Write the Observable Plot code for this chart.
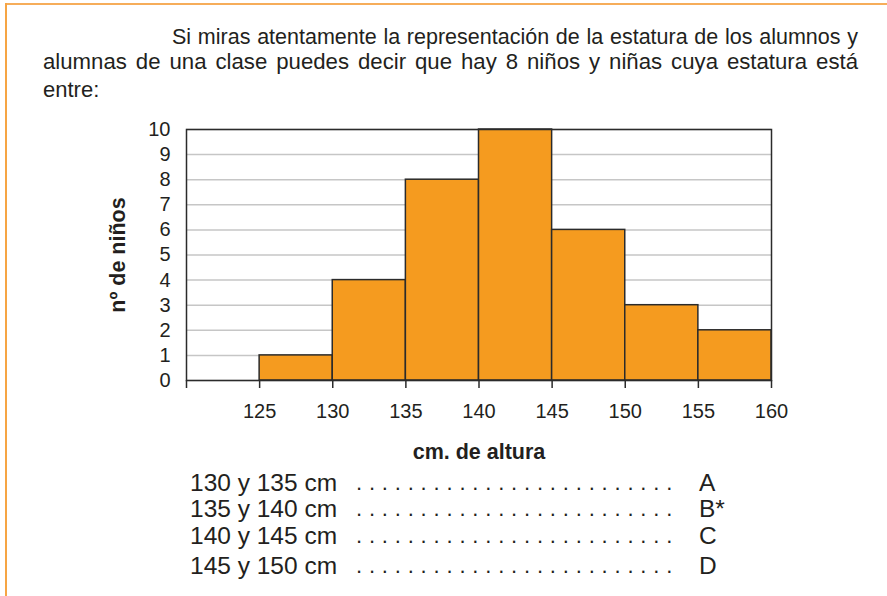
<!DOCTYPE html>
<html>
<head>
<meta charset="utf-8">
<script src="https://cdn.jsdelivr.net/npm/d3@7"></script>
<script src="https://cdn.jsdelivr.net/npm/@observablehq/plot@0.6"></script>
<style>
  body { margin: 0; background: #fff; }
  #page { position: relative; width: 887px; height: 596px; overflow: hidden;
          font-family: "Liberation Sans", Arial, sans-serif; color: #231f20; background: #fff; }
  #frameTop { position: absolute; left: 5px; top: 3px; width: 882px; height: 2px; background: #f6ad5a; }
  #frameLeft { position: absolute; left: 5px; top: 3px; width: 2px; height: 593px; background: #f6a544; }
  .line { position: absolute; white-space: nowrap; font-size: 21.5px; line-height: 26px; }
  .just { text-align: justify; text-align-last: justify; white-space: normal; }
  .row { position: absolute; white-space: nowrap; font-size: 24.5px; line-height: 26px; }
  #chart { position: absolute; left: 0; top: 100px; }
</style>
</head>
<body>
<div id="page">
  <div id="frameTop"></div>
  <div id="frameLeft"></div>
  <div id="intro"></div>
  <div id="chart"></div>
  <div id="answers"></div>
</div>
<script>
// ---- data ----
const introLines = [
  "Si miras atentamente la representación de la estatura de los alumnos y",
  "alumnas de una clase puedes decir que hay 8 niños y niñas cuya estatura está",
  "entre:"
];
const binStart = [125, 130, 135, 140, 145, 150, 155];
const binEnd   = [130, 135, 140, 145, 150, 155, 160];
const counts   = [1, 4, 8, 10, 6, 3, 2];
const xTicks = [120, 125, 130, 135, 140, 145, 150, 155, 160];
const yTicks = [0, 1, 2, 3, 4, 5, 6, 7, 8, 9, 10];
const xLabel = "cm. de altura";
const yLabel = "nº de niños";
const options = ["130 y 135 cm", "135 y 140 cm", "140 y 145 cm", "145 y 150 cm"];
const optionLetters = ["A", "B*", "C", "D"];

// ---- intro text ----
const intro = document.getElementById("intro");
const introPos = [[172, 44, true, 21.5], [43, 69, true, 22.2], [43, 97, false, 22]]; // [left, baseline, justified, size]
const rightEdge = 858;
introLines.forEach((t, i) => {
  const d = document.createElement("div");
  d.className = "line" + (introPos[i][2] ? " just" : "");
  d.textContent = t;
  d.style.fontSize = introPos[i][3] + "px";
  d.style.left = introPos[i][0] + "px";
  if (introPos[i][2]) d.style.width = (rightEdge - introPos[i][0]) + "px";
  d.style.top = (introPos[i][1] - 20.3) + "px";
  intro.appendChild(d);
});

// ---- chart ----
const bins = binStart.map((s, i) => ({x1: s, x2: binEnd[i], y: counts[i]}));
const chart = Plot.plot({
  width: 887,
  height: 370,
  marginLeft: 186,
  marginRight: 116,
  marginTop: 29,
  marginBottom: 90,
  style: {fontFamily: '"Liberation Sans", Arial, sans-serif', color: "#231f20", background: "transparent"},
  x: {domain: [120, 160]},
  y: {domain: [0, 10]},
  marks: [
    Plot.gridY(yTicks, {stroke: "#c6c6c6", strokeOpacity: 1, strokeWidth: 1.5}),
    Plot.rectY(bins, {x1: "x1", x2: "x2", y: "y", fill: "#f59b1f", stroke: "#2b2b2b", strokeWidth: 1.5}),
    Plot.frame({stroke: "#2b2b2b", strokeWidth: 1.5}),
    Plot.axisX({ticks: xTicks, tickSize: 8, tickPadding: 15, fontSize: 20, stroke: "#2b2b2b", strokeWidth: 1.5,
                tickFormat: d => d === 120 ? "" : String(d), label: null}),
    Plot.axisY({ticks: yTicks, tickSize: 0, tickPadding: 16, fontSize: 20, label: null}),
    Plot.text([xLabel], {frameAnchor: "bottom", dy: 72, text: d => d, fontSize: 21.5, fontWeight: "bold",
                         textAnchor: "middle", lineAnchor: "middle"}),
    Plot.text([yLabel], {frameAnchor: "left", dx: -68, text: d => d, rotate: -90, fontSize: 21.5, fontWeight: "bold",
                         textAnchor: "middle", lineAnchor: "middle"})
  ]
});
document.getElementById("chart").appendChild(chart);

// ---- answer options ----
const answers = document.getElementById("answers");
const rowBase = [492, 518, 545, 575];
options.forEach((t, i) => {
  const top = (rowBase[i] - 22.4) + "px";
  const a = document.createElement("div");
  a.className = "row"; a.textContent = t;
  a.style.left = "190px"; a.style.top = top;
  answers.appendChild(a);
  const dots = document.createElement("div");
  dots.className = "row"; dots.textContent = Array(25).fill(".").join(" ");
  dots.style.left = "356px"; dots.style.top = top;
  dots.style.fontSize = "22px";
  dots.style.letterSpacing = "0.35px";
  answers.appendChild(dots);
  const l = document.createElement("div");
  l.className = "row"; l.textContent = optionLetters[i];
  l.style.left = "699px"; l.style.top = top;
  answers.appendChild(l);
});
</script>
</body>
</html>
